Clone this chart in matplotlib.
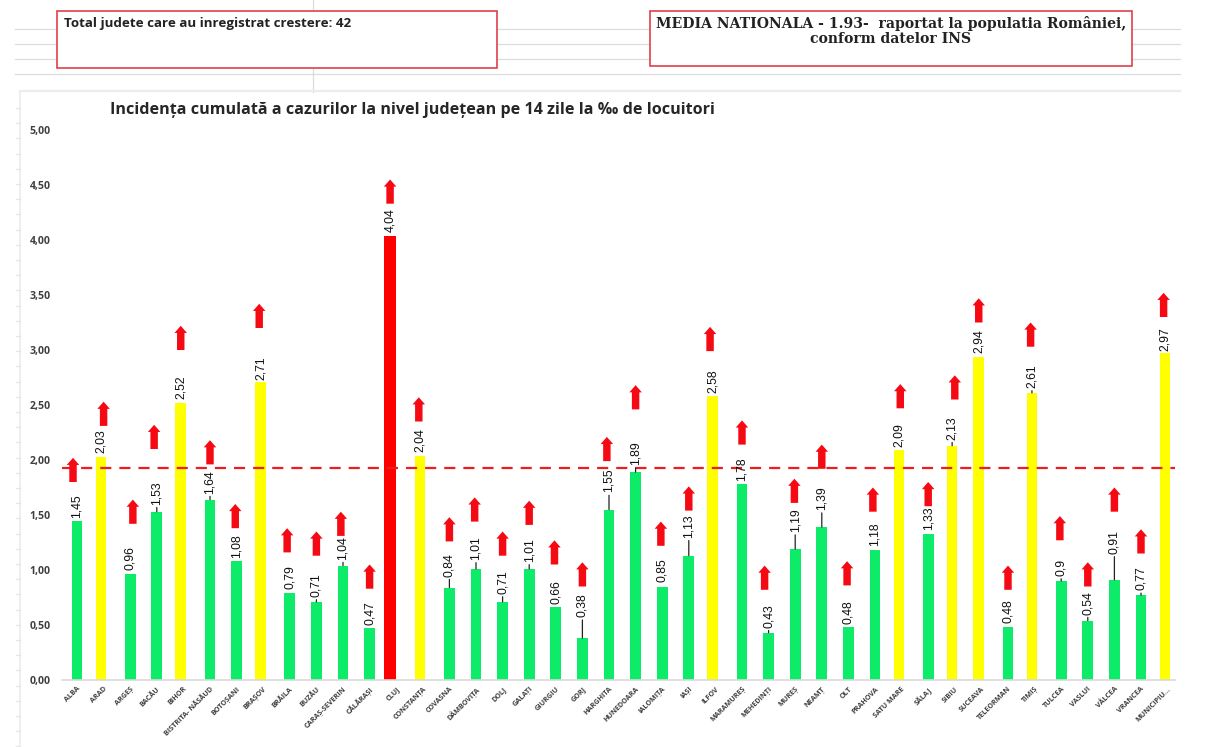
import matplotlib
matplotlib.use('Agg')
import numpy as np
import matplotlib.pyplot as plt
from matplotlib.patches import Rectangle

plt.rcParams['font.family'] = ['Open Sans', 'DejaVu Sans']

# Data
judete = ['ALBA', 'ARAD', 'ARGEȘ', 'BACĂU', 'BIHOR', 'BISTRITA- NĂSĂUD', 'BOTOȘANI', 'BRAȘOV',
          'BRĂILA', 'BUZĂU', 'CARAȘ-SEVERIN', 'CĂLĂRAȘI', 'CLUJ', 'CONSTANȚA', 'COVASNA',
          'DÂMBOVIȚA', 'DOLJ', 'GALAȚI', 'GIURGIU', 'GORJ', 'HARGHITA', 'HUNEDOARA', 'IALOMIȚA',
          'IAȘI', 'ILFOV', 'MARAMUREȘ', 'MEHEDINȚI', 'MUREȘ', 'NEAMȚ', 'OLT', 'PRAHOVA',
          'SATU MARE', 'SĂLAJ', 'SIBIU', 'SUCEAVA', 'TELEORMAN', 'TIMIȘ', 'TULCEA', 'VASLUI',
          'VÂLCEA', 'VRANCEA', 'MUNICIPIU...']
incidenta = [1.45, 2.03, 0.96, 1.53, 2.52, 1.64, 1.08, 2.71, 0.79, 0.71, 1.04, 0.47, 4.04, 2.04,
             0.84, 1.01, 0.71, 1.01, 0.66, 0.38, 1.55, 1.89, 0.85, 1.13, 2.58, 1.78, 0.43, 1.19,
             1.39, 0.48, 1.18, 2.09, 1.33, 2.13, 2.94, 0.48, 2.61, 0.9, 0.54, 0.91, 0.77, 2.97]
# top of the red arrow drawn over each county
arrow_tip = [2.02, 2.53, 1.64, 2.32, 3.22, 2.18, 1.60, 3.42, 1.38, 1.35, 1.53, 1.05, 4.55, 2.57,
             1.48, 1.66, 1.35, 1.63, 1.27, 1.07, 2.21, 2.68, 1.44, 1.76, 3.21, 2.36, 1.04, 1.83,
             2.14, 1.08, 1.75, 2.69, 1.80, 2.77, 3.47, 1.04, 3.25, 1.49, 1.07, 1.75, 1.37, 3.52]
arrow_dx = [-0.15, 0.1, 0.1, -0.1, 0, 0, -0.05, -0.05, -0.1, 0, -0.08, 0, 0, -0.05,
            0, -0.05, 0, 0, -0.05, 0, -0.08, 0, -0.05, 0, -0.1, 0, -0.15, -0.03,
            0, -0.05, -0.08, 0.05, 0, 0.1, 0, 0, -0.05, -0.05, 0, 0, 0, -0.05]
label_gap = [3, 4, 4, 7, 4, 6, 3, 2, 4, 5, 6, 3, 4, 4, 11, 9, 8, 7, 3, 21, 17, 7, 4, 18, 3, 3, 5,
             17, 17, 3, 4, 3, 4, 6, 4, 4, 5, 5, 6, 26, 5, 2]
mean_nat = 1.93
yticks = [0, 0.5, 1, 1.5, 2, 2.5, 3, 3.5, 4, 4.5, 5]

x = np.arange(len(judete))
val = np.array(incidenta)
culori = np.where(val >= 4, 'r', np.where(val >= 2, 'y', 'g'))
# clustered excel series, so yellow and red sit a bit left of the green slots
bar_w = 0.40
step = 26.6
fig = plt.figure(figsize=(12.12, 7.47), dpi=100)

# page decoration behind the chart, in pixels
bg = fig.add_axes([0, 0, 1, 1])
bg.set_xlim(0, 1212)
bg.set_ylim(747, 0)
bg.axis('off')
for y in [29, 44, 59, 74]:
    bg.plot([15, 1180], [y, y], color='#dcdcdc', lw=0.9)
bg.plot([313, 313], [0, 92], color='#dcdcdc', lw=0.9)
bg.plot([20, 1180], [91, 91], color='#ececec', lw=1.6)
bg.plot([20, 20], [92, 747], color='#efefef', lw=1.6)
for y in np.arange(108, 747, 15.2):
    bg.plot([16, 20], [y, y], color='#e6e6e6', lw=0.9)
bg.add_patch(Rectangle((57, 11), 440, 57, fc='white', ec='#e0404a', lw=1.2, zorder=3))
bg.add_patch(Rectangle((650, 11), 482, 55, fc='white', ec='#e0404a', lw=1.2, zorder=3))
bg.text(64, 23, 'Total judete care au inregistrat crestere: 42', fontsize=9.6, fontweight='bold',
        color='#222222', va='center', zorder=4)
bg.text(891, 31, 'MEDIA NATIONALA - 1.93-  raportat la populatia României,\nconform datelor INS',
        fontsize=10.05, fontweight='bold', color='#222222', ha='center', va='center', zorder=4,
        family=['DejaVu Serif'], linespacing=1.1)
bg.text(110, 110, 'Incidența cumulată a cazurilor la nivel județean pe 14 zile la ‰ de locuitori',
        fontsize=11.65, fontweight='bold', color='#262626', va='center')

ax = fig.add_axes([62 / 1212, 1 - 680 / 747, (1175 - 62) / 1212, 550 / 747])
ax.patch.set_alpha(0)
ax.set_xlim((62 - 77) / step, (1175 - 77) / step)
ax.set_ylim(0, 5)

ax.bar(x[culori == 'g'], val[culori == 'g'], width=bar_w, color='#0cec68')
ax.bar(x[culori == 'y'] - 0.1, val[culori == 'y'], width=bar_w, color='#ffff00')
ax.bar(x[culori == 'r'] - 0.23, val[culori == 'r'], width=bar_w + 0.03, color='#ff0000')

ax.axhline(mean_nat, color='#ee1c1c', lw=1.6, dashes=(5, 3.6), zorder=4)

for i in x:
    bx = i - 0.1 if culori[i] == 'y' else i - 0.23 if culori[i] == 'r' else i
    gap = label_gap[i]
    txt = str(incidenta[i]).replace('.', ',')
    props = None
    if gap > 4:
        props = dict(arrowstyle='-', color='#222222', lw=0.9, shrinkA=0, shrinkB=0)
    ax.annotate(txt, xy=(bx, val[i]), xytext=(0, gap * 0.72), textcoords='offset points',
                rotation=90, ha='center', va='bottom', fontsize=8.8, color='#111111',
                family=['Liberation Sans'], arrowprops=props, zorder=5)
    ax.arrow(bx + arrow_dx[i], arrow_tip[i] - 0.22, 0, 0.22, width=0.28, head_width=0.47,
             head_length=0.065, length_includes_head=True, color='#f50a14', lw=0, zorder=6)

ax.set_yticks(yticks)
ax.set_yticklabels(['{:.2f}'.format(v).replace('.', ',') for v in yticks], fontsize=7.6,
                   fontweight='bold', color='#404040')
ax.set_xticks(x)
ax.set_xticklabels(judete, rotation=45, ha='right', rotation_mode='anchor', fontsize=5.2,
                   fontweight='bold', color='#404040')
ax.tick_params(axis='both', length=0)
ax.tick_params(axis='x', pad=4)
ax.tick_params(axis='y', pad=8)
for s in ['top', 'right', 'left']:
    ax.spines[s].set_visible(False)
ax.spines['bottom'].set_color('#d9d9d9')
ax.spines['bottom'].set_linewidth(1.2)

fig.savefig('out.png', dpi=100)
